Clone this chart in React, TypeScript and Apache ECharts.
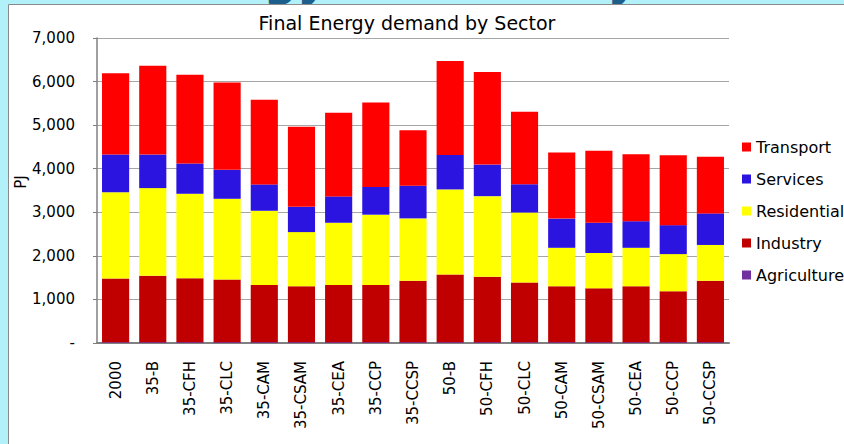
import React, { useEffect, useRef } from "react";
import * as echarts from "echarts";

const categories = [
  "2000", "35-B", "35-CFH", "35-CLC", "35-CAM", "35-CSAM", "35-CEA", "35-CCP", "35-CCSP",
  "50-B", "50-CFH", "50-CLC", "50-CAM", "50-CSAM", "50-CEA", "50-CCP", "50-CCSP",
];
const agriculture = [20, 20, 20, 20, 20, 20, 20, 20, 20, 20, 20, 20, 20, 20, 20, 20, 20];
const industry = [1460, 1525, 1465, 1435, 1310, 1280, 1310, 1310, 1410, 1555, 1500, 1370, 1285, 1235, 1285, 1165, 1410];
const residential = [1980, 2010, 1940, 1855, 1705, 1245, 1430, 1615, 1430, 1950, 1850, 1605, 880, 810, 880, 855, 820];
const services = [865, 770, 695, 665, 605, 580, 605, 635, 750, 790, 725, 650, 670, 695, 610, 665, 725];
const transport = [1865, 2040, 2035, 2005, 1940, 1840, 1920, 1940, 1275, 2155, 2125, 1665, 1515, 1650, 1535, 1605, 1300];
const yTicks = [0, 1000, 2000, 3000, 4000, 5000, 6000, 7000];

const FONT = "'DejaVu Sans', Verdana, sans-serif";

export default function App() {
  const ref = useRef<HTMLDivElement>(null);
  useEffect(() => {
    if (!ref.current) return;
    const chart = echarts.init(ref.current, null, { renderer: "svg" });
    const mk = (name: string, data: number[], color: string) => ({
      name,
      type: "bar",
      stack: "total",
      data,
      barCategoryGap: "27%",
      itemStyle: { color },
      emphasis: { disabled: true },
    });
    chart.setOption({
      animation: false,
      backgroundColor: "#B2F0FA",
      textStyle: { fontFamily: FONT },
      graphic: [
        {
          type: "text",
          z: -10,
          left: -3,
          top: -45,
          style: {
            text: "Final Energy demand by Sector",
            font: "bold 47px 'DejaVu Sans', sans-serif",
            fill: "#1C5E8C",
          },
        },
        {
          type: "rect",
          z: -5,
          shape: { x: 8.5, y: 4.5, width: 860, height: 460 },
          style: { fill: "#FFFFFF", stroke: "#8A8A8A", lineWidth: 1 },
        },
        {
          type: "text",
          x: 21,
          y: 182,
          rotation: Math.PI / 2,
          style: {
            text: "PJ",
            font: "15px 'DejaVu Sans', sans-serif",
            fill: "#000",
            align: "center",
            verticalAlign: "middle",
          },
        },
      ],
      title: {
        text: "Final Energy demand by Sector",
        left: 402,
        top: 8,
        textAlign: "center",
        textStyle: { fontFamily: FONT, fontSize: 19, fontWeight: "normal", color: "#000" },
      },
      legend: {
        orient: "vertical",
        left: 737,
        top: 134,
        itemWidth: 9,
        itemHeight: 9,
        itemGap: 16,
        icon: "rect",
        data: ["Transport", "Services", "Residential", "Industry", "Agriculture"],
        textStyle: { fontFamily: FONT, fontSize: 16, color: "#000" },
      },
      grid: { left: 97, top: 38, right: 115, bottom: 101, containLabel: false },
      xAxis: {
        type: "category",
        data: categories,
        axisLine: { lineStyle: { color: "#808080", width: 2 } },
        axisTick: { show: false },
        axisLabel: { rotate: 90, margin: 18, fontSize: 15, color: "#000", fontFamily: FONT, interval: 0 },
      },
      yAxis: {
        type: "value",
        min: yTicks[0],
        max: yTicks[yTicks.length - 1],
        interval: 1000,
        axisLine: { show: true, lineStyle: { color: "#808080", width: 1.5 } },
        axisTick: { show: true, length: 4, lineStyle: { color: "#808080" } },
        axisLabel: {
          margin: 22,
          fontSize: 15,
          color: "#000",
          fontFamily: FONT,
          formatter: (v: number) => (v === 0 ? "-" : v.toLocaleString("en-US")),
        },
        splitLine: { show: true, lineStyle: { color: "#A6A6A6", width: 1 } },
      },
      series: [
        mk("Agriculture", agriculture, "#7030A0"),
        mk("Industry", industry, "#C00000"),
        mk("Residential", residential, "#FFFF00"),
        mk("Services", services, "#2B14E0"),
        mk("Transport", transport, "#FF0000"),
      ],
    });
    return () => chart.dispose();
  }, []);
  return (
    <div
      ref={ref}
      style={{ position: "absolute", left: 0, top: 0, width: 844, height: 444 }}
    />
  );
}
